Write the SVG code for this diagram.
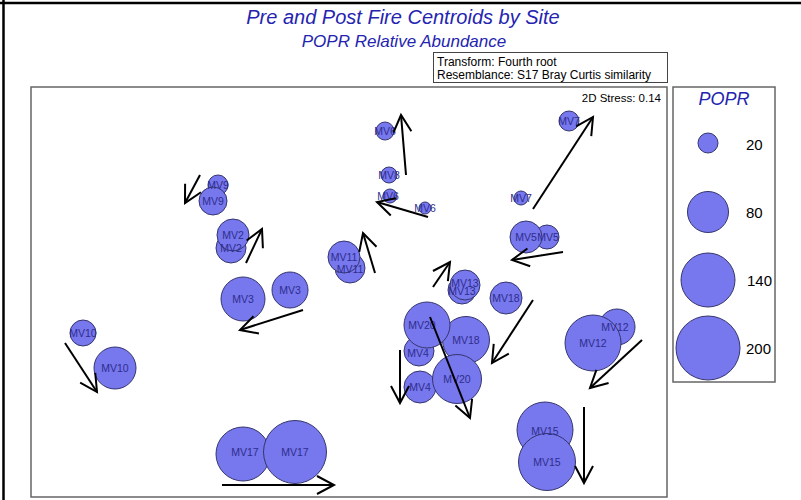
<svg xmlns="http://www.w3.org/2000/svg" width="801" height="500" viewBox="0 0 801 500">
<style>
.t{font-family:"Liberation Sans",Arial,sans-serif;}
.title{fill:#2424b0;font-style:italic;text-anchor:middle;}
.pt{fill:#7777ee;stroke:#35356e;stroke-width:1;}
.lb{font-family:"Liberation Sans",Arial,sans-serif;font-size:10.5px;fill:#2e2e8c;text-anchor:middle;dominant-baseline:central;}
.ar{stroke:#000;stroke-width:2;fill:none;marker-end:url(#ah);}
.lg{font-family:"Liberation Sans",Arial,sans-serif;font-size:15px;fill:#000;dominant-baseline:central;}
</style>
<defs>
<marker id="ah" markerUnits="userSpaceOnUse" markerWidth="40" markerHeight="40" refX="0" refY="0" viewBox="-20 -20 40 40" orient="auto" overflow="visible">
<path d="M-17,-9 L0,0 L-17,9" fill="none" stroke="#000" stroke-width="2"/>
</marker>
</defs>
<rect width="801" height="500" fill="#fff"/>
<line x1="0" y1="3" x2="801" y2="3" stroke="#000" stroke-width="2.5"/>
<line x1="3.5" y1="0" x2="3.5" y2="500" stroke="#000" stroke-width="2.5"/>
<text class="t title" x="403" y="24" font-size="20">Pre and Post Fire Centroids by Site</text>
<text class="t title" x="404" y="47" font-size="17">POPR Relative Abundance</text>
<g id="info">
<rect x="433.5" y="52.5" width="234" height="30" fill="#fff" stroke="#444" stroke-width="1"/>
<text class="t" x="437" y="66" font-size="12">Transform: Fourth root</text>
<text class="t" x="437" y="79" font-size="12">Resemblance: S17 Bray Curtis similarity</text>
</g>
<rect id="plot" x="31" y="87" width="636" height="410" fill="none" stroke="#666" stroke-width="1.5"/>
<text class="t" x="661" y="102" font-size="11.5" text-anchor="end">2D Stress: 0.14</text>
<g id="legend">
<rect x="673" y="87" width="102" height="295" fill="none" stroke="#666" stroke-width="1.5"/>
<text class="t title" x="724" y="105" font-size="18">POPR</text>
<circle class="pt" cx="708" cy="143" r="10"/>
<text class="lg" x="746" y="144">20</text>
<circle class="pt" cx="708" cy="212" r="20.5"/>
<text class="lg" x="746" y="212">80</text>
<circle class="pt" cx="708" cy="280" r="27"/>
<text class="lg" x="747" y="280">140</text>
<circle class="pt" cx="708" cy="348" r="32"/>
<text class="lg" x="746" y="348">200</text>
</g>
<g id="nodes">
<g id="site-mv6">
<circle class="pt" cx="385" cy="131" r="9"/><circle class="pt" cx="390" cy="196" r="7"/><circle class="pt" cx="425" cy="208" r="6"/>
<text class="lb" x="385" y="131">MV6</text><text class="lb" x="388" y="196">MV6</text><text class="lb" x="425" y="208">MV6</text>
</g>
<g id="site-mv8"><circle class="pt" cx="389" cy="175" r="8"/><text class="lb" x="389" y="175">MV8</text></g>
<g id="site-mv7">
<circle class="pt" cx="569" cy="121" r="10"/><circle class="pt" cx="521" cy="198" r="7"/>
<text class="lb" x="569" y="121">MV7</text><text class="lb" x="521" y="198">MV7</text>
</g>
<g id="site-mv9">
<circle class="pt" cx="218" cy="185" r="10"/><circle class="pt" cx="213" cy="201" r="14"/>
<text class="lb" x="218" y="185">MV9</text><text class="lb" x="213" y="201">MV9</text>
</g>
<g id="site-mv2">
<circle class="pt" cx="231" cy="248" r="15"/><circle class="pt" cx="233" cy="235" r="16"/>
<text class="lb" x="233" y="235">MV2</text><text class="lb" x="231" y="248">MV2</text>
</g>
<g id="site-mv11">
<circle class="pt" cx="350" cy="268" r="15"/><circle class="pt" cx="344" cy="257" r="16"/>
<text class="lb" x="344" y="257">MV11</text><text class="lb" x="350" y="269">MV11</text>
</g>
<g id="site-mv3">
<circle class="pt" cx="243" cy="299" r="22"/><circle class="pt" cx="290" cy="290" r="18"/>
<text class="lb" x="243" y="299">MV3</text><text class="lb" x="290" y="290">MV3</text>
</g>
<g id="site-mv5">
<circle class="pt" cx="547" cy="237" r="12"/><circle class="pt" cx="526" cy="237" r="16"/>
<text class="lb" x="526" y="237">MV5</text><text class="lb" x="548" y="237">MV5</text>
</g>
<g id="site-mv13">
<circle class="pt" cx="462" cy="290" r="14"/><circle class="pt" cx="465" cy="285" r="15"/>
<text class="lb" x="465" y="283">MV13</text><text class="lb" x="462" y="291">MV13</text>
</g>
<g id="site-mv18">
<circle class="pt" cx="506" cy="298" r="16"/><circle class="pt" cx="466" cy="340" r="23.5"/>
<text class="lb" x="506" y="298">MV18</text><text class="lb" x="466" y="340">MV18</text>
</g>
<g id="site-mv4">
<circle class="pt" cx="419" cy="351" r="15"/><circle class="pt" cx="420" cy="387" r="16"/>
<text class="lb" x="418" y="353">MV4</text><text class="lb" x="420" y="387">MV4</text>
</g>
<g id="site-mv20">
<circle class="pt" cx="427" cy="325" r="23"/><circle class="pt" cx="457" cy="379" r="24.5"/>
<text class="lb" x="422" y="325">MV20</text><text class="lb" x="457" y="379">MV20</text>
</g>
<g id="site-mv10">
<circle class="pt" cx="83" cy="333" r="13"/><circle class="pt" cx="115" cy="368" r="21"/>
<text class="lb" x="83" y="333">MV10</text><text class="lb" x="115" y="368">MV10</text>
</g>
<g id="site-mv12">
<circle class="pt" cx="617" cy="327" r="18"/><circle class="pt" cx="593" cy="343" r="28"/>
<text class="lb" x="615" y="327">MV12</text><text class="lb" x="593" y="343">MV12</text>
</g>
<g id="site-mv15">
<circle class="pt" cx="545" cy="430" r="28"/><circle class="pt" cx="547" cy="462" r="28.5"/>
<text class="lb" x="545" y="431">MV15</text><text class="lb" x="547" y="462">MV15</text>
</g>
<g id="site-mv17">
<circle class="pt" cx="243" cy="454" r="27"/><circle class="pt" cx="295" cy="452" r="31.5"/>
<text class="lb" x="245" y="452">MV17</text><text class="lb" x="295" y="452">MV17</text>
</g>
</g>
<g id="connectors">
<line class="ar" x1="406" y1="175" x2="401" y2="115"/>
<line class="ar" x1="428" y1="217" x2="377" y2="202"/>
<line class="ar" x1="533" y1="209" x2="593" y2="117"/>
<line class="ar" x1="200" y1="175" x2="185" y2="203"/>
<line class="ar" x1="246" y1="263" x2="262" y2="229"/>
<line class="ar" x1="375" y1="273" x2="363" y2="233"/>
<line class="ar" x1="303" y1="310" x2="240" y2="330"/>
<line class="ar" x1="563" y1="252" x2="512" y2="260"/>
<line class="ar" x1="433" y1="287" x2="450" y2="262"/>
<line class="ar" x1="533" y1="300" x2="492" y2="363"/>
<line class="ar" x1="430" y1="317" x2="470" y2="418"/>
<line class="ar" x1="400" y1="350" x2="400" y2="403"/>
<line class="ar" x1="65" y1="343" x2="97" y2="392"/>
<line class="ar" x1="642" y1="340" x2="590" y2="388"/>
<line class="ar" x1="584" y1="407" x2="584" y2="483"/>
<line class="ar" x1="222" y1="485" x2="334" y2="485"/>
</g>
</svg>
